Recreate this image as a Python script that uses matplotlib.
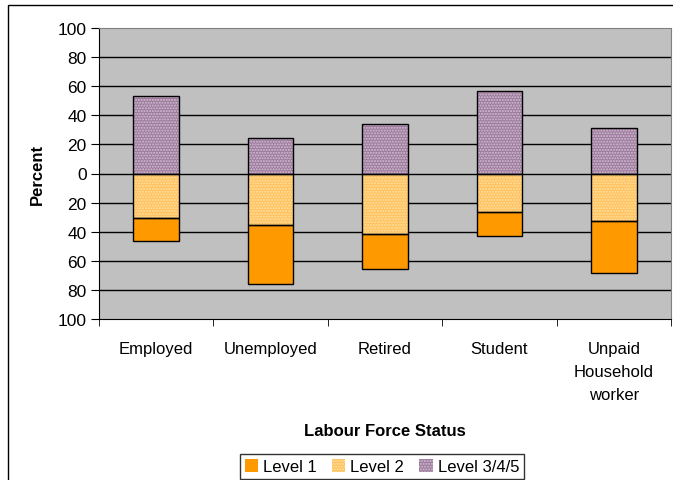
import numpy as np
import matplotlib.pyplot as plt
from matplotlib.patches import Rectangle

plt.rcParams['font.family'] = ['Liberation Sans', 'DejaVu Sans']
plt.rcParams['hatch.linewidth'] = 1.0

# ── Data (percent of each group) ─────────────────────────────────────────────
categories = ["Employed", "Unemployed", "Retired", "Student",
              "Unpaid\nHousehold\nworker"]
level1 = [15.8, 40.6, 24.0, 16.0, 35.3]      # drawn below zero, under Level 2
level2 = [30.6, 35.4, 41.6, 26.7, 32.9]      # drawn below zero, from 0
level345 = [53.3, 24.4, 34.0, 56.9, 31.3]    # drawn above zero
yticks = [100, 80, 60, 40, 20, 0, -20, -40, -60, -80, -100]

W, H = 673, 481
fig = plt.figure(figsize=(W / 100, H / 100), dpi=100)
ax = fig.add_axes([99 / W, (H - 320) / H, 572 / W, 291 / H])

x = np.arange(len(categories))
l1 = np.array(level1)
l2 = np.array(level2)
l3 = np.array(level345)
bw = 0.4

# fills with fine dot pattern, then black outlines on top
ax.bar(x, -l1, bw, bottom=-l2, color="#ff9900", edgecolor="#ff9900",
       linewidth=0, zorder=3, label="Level 1")
ax.bar(x, -l2, bw, color="#ffc060", edgecolor="#ffe4a0", hatch="......",
       linewidth=0, zorder=3, label="Level 2")
ax.bar(x, l3, bw, color="#9c7a9c", edgecolor="#d4c0d4", hatch="......",
       linewidth=0, zorder=3, label="Level 3/4/5")
for bottom, h in [(-l2, -l1), (0, -l2), (0, l3)]:
    ax.bar(x, h, bw, bottom=bottom, fill=False, edgecolor="black",
           linewidth=1.0, zorder=4)

ax.set_facecolor("#c0c0c0")
ax.set_xlim(-0.5, len(categories) - 0.5)
ax.set_ylim(-100, 100)
ax.set_yticks(yticks)
ax.set_yticklabels([str(abs(v)) for v in yticks], fontsize=12.5)
for v in yticks[1:-1]:
    ax.axhline(v, color="black", linewidth=1.0, zorder=1)

# category labels centred, tick marks on the boundaries
ax.set_xticks(x)
ax.set_xticklabels(categories, fontsize=12, linespacing=1.65)
ax.tick_params(axis="x", length=0, pad=16)
ax.set_xticks(np.arange(len(categories) + 1) - 0.5, minor=True)
ax.tick_params(axis="x", which="minor", length=5, direction="out")
ax.tick_params(axis="y", length=6, direction="out", pad=3)

for side in ["top", "right"]:
    ax.spines[side].set_color("#808080")
for side in ["left", "bottom"]:
    ax.spines[side].set_color("black")

ax.set_xlabel("Labour Force Status", fontsize=12, fontweight="bold", labelpad=15)
ax.set_ylabel("Percent", fontsize=12, fontweight="bold", labelpad=9)

handles, labels = ax.get_legend_handles_labels()
leg = fig.legend(handles, labels, ncol=3, loc="upper center",
                 bbox_to_anchor=(382 / W, 1 - 455 / H), fontsize=12,
                 frameon=True, fancybox=False, edgecolor="black",
                 handlelength=0.8, handleheight=0.8, handletextpad=0.3,
                 columnspacing=0.9, borderpad=0.3, borderaxespad=0)
leg.get_frame().set_linewidth(1.0)

# outer chart border
fig.patches.append(Rectangle((8 / W, -0.1), 1.0, 1 - 6 / H + 0.1,
                             transform=fig.transFigure, fill=False,
                             edgecolor="black", linewidth=1.0))

fig.savefig("out.png", dpi=100)
